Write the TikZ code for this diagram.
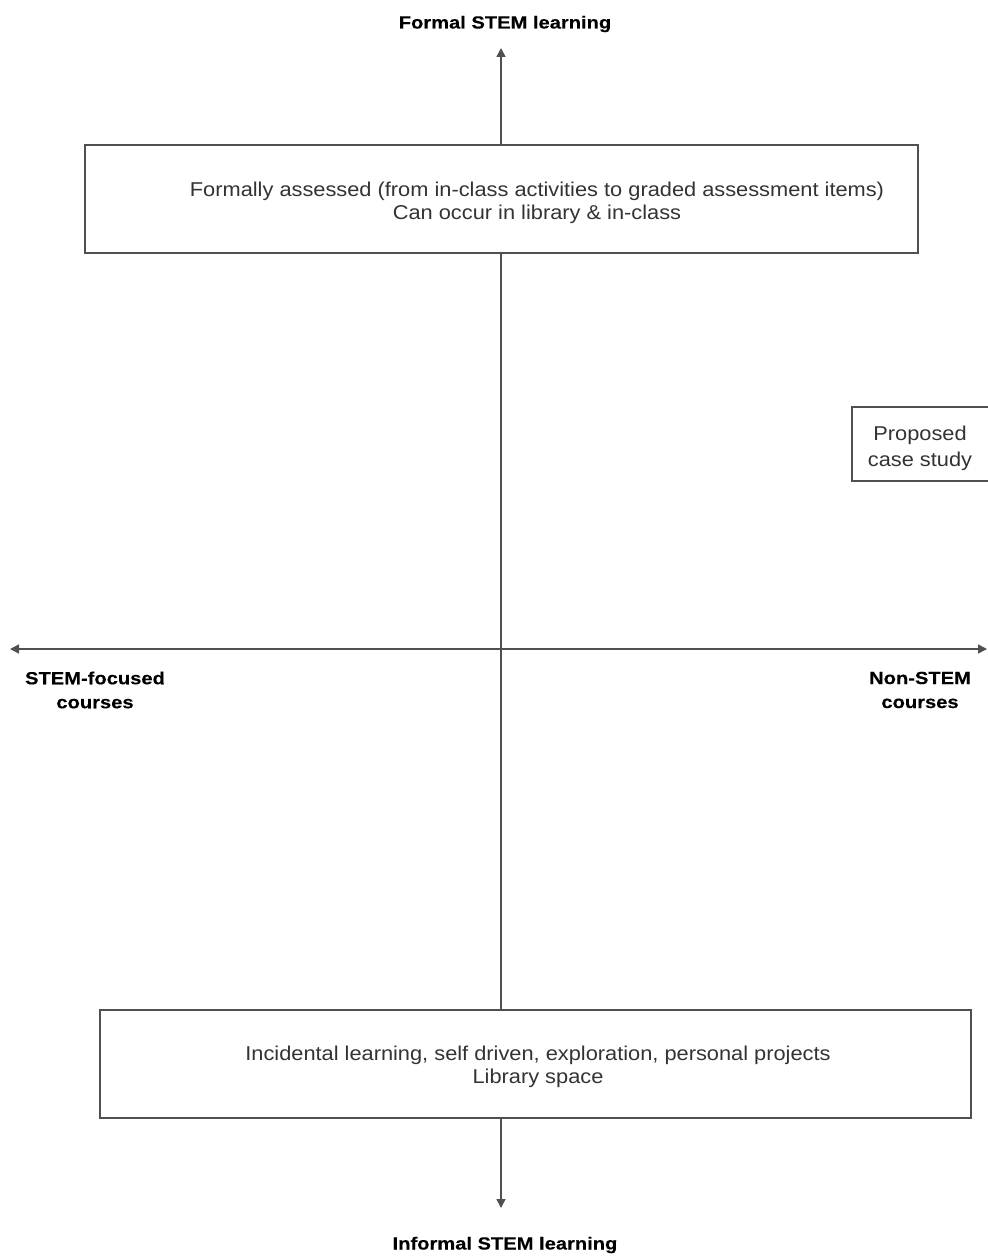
\documentclass[tikz,border=0pt]{standalone}
\usepackage{fontspec}
\setmainfont{Liberation Sans}
\newfontfamily\boxfont{Liberation Sans}[FakeStretch=1.09]
\newfontfamily\labfont{Liberation Sans}[FakeStretch=1.15,FakeBold=0.2]
\usetikzlibrary{arrows.meta}
\definecolor{linegray}{HTML}{505050}
\definecolor{textgray}{HTML}{333333}
\begin{document}
\begin{tikzpicture}[x=1pt,y=-1pt,
  axis/.style={draw=linegray,line width=1.6pt,-{Triangle[length=9pt,width=9pt]}},
  seg/.style={draw=linegray,line width=1.6pt},
  box/.style={draw=linegray,line width=1.8pt,fill=white,inner sep=0pt},
  boxtext/.style={text=textgray,font=\boxfont\fontsize{20}{23}\selectfont,align=center},
  lab/.style={font=\labfont\bfseries\fontsize{17.5}{24}\selectfont,align=center,text=black}]
\useasboundingbox (0,0) rectangle (987,1257);
% boxes
\node[box,minimum width=833pt,minimum height=108pt,anchor=north west] (top) at (84,144) {};
\node[boxtext] (toptext) at (537,203) {Formally assessed (from in-class activities to graded assessment items)\\Can occur in library \& in-class};
\node[box,minimum width=871pt,minimum height=108pt,anchor=north west] (bot) at (99,1009) {};
\node[boxtext] (bottext) at (538,1067) {Incidental learning, self driven, exploration, personal projects\\Library space};
\node[box,minimum width=140pt,minimum height=74pt,anchor=north west] (case) at (851,406) {};
\node[boxtext,font=\boxfont\fontsize{20}{26}\selectfont] (casetext) at (920,448) {Proposed\\case study};
% coordinates
\coordinate (ttip) at (501,48);
\coordinate (btip) at (501,1208);
\coordinate (ltip) at (10,649);
\coordinate (rtip) at (987,649);
\coordinate (cross) at (501,649);
\coordinate (topb) at (501,144);
\coordinate (topbb) at (501,252);
\coordinate (botb) at (501,1009);
\coordinate (botbb) at (501,1117);
% axes
\draw[axis] (topb) -- (ttip);
\draw[seg] (topbb) -- (botb);
\draw[axis] (botbb) -- (btip);
\draw[axis] (cross) -- (ltip);
\draw[axis] (cross) -- (rtip);
% labels
\node[lab] (formal) at (505,24) {Formal STEM learning};
\node[lab] (informal) at (505,1245) {Informal STEM learning};
\node[lab] (stemf) at (95,690) {STEM-focused\\courses};
\node[lab] (nonstem) at (920,690) {Non-STEM\\courses};
\end{tikzpicture}
\end{document}
